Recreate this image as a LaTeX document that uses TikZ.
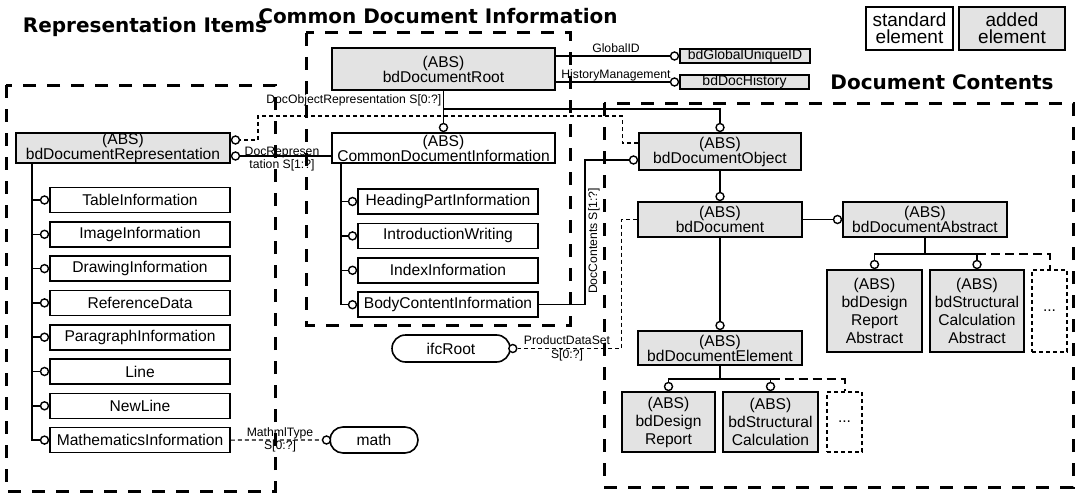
\documentclass[tikz,border=0pt]{standalone}
\usepackage{fontspec}
\setmainfont{Liberation Sans}
\newfontfamily\headfont{DejaVu Sans}
\usetikzlibrary{positioning,shapes.misc}
\newcommand{\elemfont}{\fontsize{15.6}{15}\selectfont}
\newcommand{\tallfont}{\fontsize{15.6}{18}\selectfont}
\newcommand{\idfont}{\fontsize{14}{14}\selectfont}
\newcommand{\lblfont}{\fontsize{12.2}{13.5}\selectfont}
\newcommand{\legendfont}{\fontsize{19}{17}\selectfont}
\newcommand{\headingfont}{\headfont\bfseries\fontsize{20}{22}\selectfont}
\tikzset{
  elem/.style={draw, line width=1.6pt, fill=white, font=\elemfont, align=center, inner sep=0pt},
  added/.style={elem, fill=black!11},
  tall/.style={font=\tallfont},
  etcbox/.style={draw, line width=1.3pt, dash pattern=on 4pt off 3pt, fill=white, font=\elemfont, inner sep=0pt},
  pill/.style={draw, rounded rectangle, line width=1.6pt, fill=white, font=\elemfont, inner sep=0pt},
  knob/.style={draw, circle, line width=1.4pt, fill=white, inner sep=0pt, minimum size=8pt},
  link/.style={line width=1.5pt},
  dlink/.style={line width=1.2pt, dash pattern=on 4pt off 3pt},
  dext/.style={line width=2pt, dash pattern=on 9pt off 5pt},
  zone/.style={line width=3pt, dash pattern=on 13pt off 11pt},
  heading/.style={font=\headingfont, inner sep=0pt},
  lbl/.style={font=\lblfont, inner sep=0.5pt, align=center}
}
\begin{document}
\begin{tikzpicture}[x=1pt,y=-1pt]
    \useasboundingbox (0,0) rectangle (1076,495);
    % group frames
    \draw [zone] (6,85) rectangle (275,491);
    \draw [zone] (306,33) rectangle (570,325);
    \draw [zone] (604,103) rectangle (1073,487);
    % titles
    \node [heading] (repTitle) at (145,27) {Representation Items};
    \node [heading] (cdiTitle) at (438,16) {Common Document Information};
    \node [heading] (dcTitle) at (942,82) {Document Contents};
    % legend
    \node [elem, font=\legendfont, minimum width=87pt, minimum height=43pt] (keyStd) at (909.5,28.5) {standard\\element};
    \node [added, font=\legendfont, minimum width=106pt, minimum height=43pt] (keyAdd) at (1012,28.5) {added\\element};

    % common document information
    \node [added, minimum width=223pt, minimum height=42pt] (root) at (443.5,69) {(ABS)\\bdDocumentRoot};
    \node [added, font=\idfont, minimum width=130pt, minimum height=14pt] (guid) at (745,56) {bdGlobalUniqueID};
    \node [added, font=\idfont, minimum width=129pt, minimum height=14pt] (hist) at (744.5,82) {bdDocHistory};
    \node [elem, minimum width=223pt, minimum height=30pt] (cdi) at (443.5,148) {(ABS)\\CommonDocumentInformation};
    \node [knob, above=0pt of cdi] (cdiK) {};
    \node [knob, left=0pt of guid] (guidK) {};
    \node [knob, left=0pt of hist] (histK) {};
    \path (cdi.south west) ++(10,0) coordinate (cdiT);
    \foreach \nm/\txt [count=\i from 0] in {head/HeadingPartInformation, intro/IntroductionWriting, index/IndexInformation, body/BodyContentInformation} {
        \node [elem, minimum width=180pt, minimum height=25pt] (\nm) at (448,{201.5+34.4*\i}) {\txt};
        \node [knob, left=0pt of \nm] (k\nm) {};
        \draw [link] (cdiT) |- (k\nm);
    }

    % representation items
    \node [added, minimum width=214pt, minimum height=30pt] (rep) at (123,148) {(ABS)\\bdDocumentRepresentation};
    \node [knob, anchor=west] (repK1) at ([yshift=8pt]rep.east) {};
    \node [knob, anchor=west] (repK2) at ([yshift=-8pt]rep.east) {};
    \path (rep.south west) ++(17,0) coordinate (repT);
    \foreach \nm/\txt [count=\i from 0] in {table/TableInformation, image/ImageInformation, drawing/DrawingInformation, refer/ReferenceData, para/ParagraphInformation, line/Line, newline/NewLine, maths/MathematicsInformation} {
        \node [elem, minimum width=180pt, minimum height=25pt] (\nm) at (140,{200+34.3*\i}) {\txt};
        \node [knob, left=0pt of \nm] (k\nm) {};
        \draw [link] (repT) |- (k\nm);
    }
    \node [pill, minimum width=118pt, minimum height=27pt] (ifc) at (451,348.5) {ifcRoot};
    \node [knob] (ifcK) at ([xshift=2pt]ifc.east) {};
    \node [pill, minimum width=88pt, minimum height=26pt] (math) at (374,440) {math};
    \node [knob, anchor=east] (mathK) at ([xshift=2pt]math.west) {};

    % document contents
    \node [added, minimum width=162pt, minimum height=37pt] (bdo) at (720,151.5) {(ABS)\\bdDocumentObject};
    \node [added, minimum width=164pt, minimum height=35pt] (bdd) at (720,219.5) {(ABS)\\bdDocument};
    \node [added, minimum width=164pt, minimum height=35pt] (bda) at (925,219.5) {(ABS)\\bdDocumentAbstract};
    \node [added, minimum width=164pt, minimum height=34pt] (bde) at (720,348) {(ABS)\\bdDocumentElement};
    \node [added, tall, minimum width=95pt, minimum height=82pt] (dra) at (874.5,311) {(ABS)\\bdDesign\\Report\\Abstract};
    \node [added, tall, minimum width=94pt, minimum height=82pt] (sca) at (977,311) {(ABS)\\bdStructural\\Calculation\\Abstract};
    \node [etcbox, minimum width=35pt, minimum height=82pt] (etcA) at (1049.5,311) {...};
    \node [added, tall, minimum width=93pt, minimum height=60pt] (dr) at (668.5,422) {(ABS)\\bdDesign\\Report};
    \node [added, tall, minimum width=95pt, minimum height=60pt] (sc) at (770.5,422) {(ABS)\\bdStructural\\Calculation};
    \node [etcbox, minimum width=35pt, minimum height=60pt] (etcE) at (844.5,422) {...};
    \node [knob, above=0pt of bdo] (bdoK) {};
    \node [knob, anchor=east] (bdoK2) at ([yshift=-8.5pt]bdo.west) {};
    \node [knob, above=0pt of bdd] (bddK) {};
    \node [knob, above=0pt of bde] (bdeK) {};
    \node [knob, left=0pt of bda] (bdaK) {};
    \node [knob, above=0pt of dra] (draK) {};
    \node [knob, above=0pt of sca] (scaK) {};
    \node [knob, above=0pt of dr] (drK) {};
    \node [knob, above=0pt of sc] (scK) {};

    % connectors
    \draw [link] (root) -- (cdiK);
    \path (root.south) ++(0,18) coordinate (rootJ);
    \draw [link] (rootJ) -| (bdoK);
    \draw [link] (root.east |- guidK) -- (guidK);
    \node [lbl] (gidLbl) at (616,48) {GlobalID};
    \draw [link] (root.east |- histK) -- (histK);
    \node [lbl] (histLbl) at (616,75) {HistoryManagement};
    \draw [link] (repK2) -- (cdi.west |- repK2);
    \node [lbl] (drepLbl) at (282,159) {DocRepresen\\tation S[1:?]};
    \draw [dlink] ([yshift=8.5pt]bdo.west) -- ++(-16,0) |- (258,116) |- (repK1);
    \node [lbl, anchor=east] (dorLbl) at (442,100) {DocObjectRepresentation S[0:?]};
    \draw [link] (body.east) -- ++(46,0) |- (bdoK2);
    \node [lbl, rotate=90] (dcLbl) at (594,241) {DocContents S[1:?]};
    \draw [dlink] (bdd.west) -- ++(-16,0) |- (ifcK);
    \node [lbl] (pdsLbl) at (567,348.5) {ProductDataSet\\S[0:?]};
    \draw [dlink] (maths.east) -- (mathK);
    \node [lbl] (mmlLbl) at (280,440) {MathmlType\\S[0:?]};
    \draw [link] (bdo) -- (bddK);
    \draw [link] (bdd) -- (bdeK);
    \draw [link] (bdd) -- (bdaK);
    \path (bda.south) ++(0,16) coordinate (bdaJ);
    \draw [link] (bda.south) -- (bdaJ);
    \draw [link] (draK) |- (bdaJ) -| (scaK);
    \draw [dext] (scaK |- bdaJ) -| (etcA.north);
    \path (bde.south) ++(0,13) coordinate (bdeJ);
    \draw [link] (bde.south) -- (bdeJ);
    \draw [link] (drK) |- (bdeJ) -| (scK);
    \draw [dext] (scK |- bdeJ) -| (etcE.north);
\end{tikzpicture}
\end{document}
